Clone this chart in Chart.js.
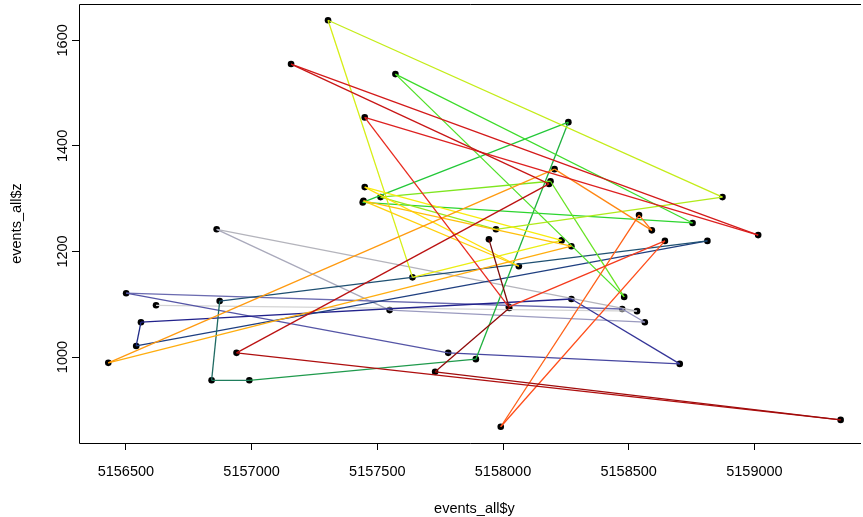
<!DOCTYPE html>
<html><head><meta charset="utf-8">
<script src="https://cdn.jsdelivr.net/npm/chart.js@4"></script>
<style>html,body{margin:0;padding:0;background:#fff;overflow:hidden}</style>
</head><body>
<canvas id="c" width="863" height="517" style="display:block;width:863px;height:517px"></canvas>
<script>
// events_all$y (horizontal) and events_all$z (vertical), in path order
const yVals = [5156620,5158533,5156861,5157549,5158564,5158474,5156501,5157782,5158703,5158272,
  5156560,5156541,5158813,5156873,5156841,5156991,5157892,5158260,5157442,5158754,
  5157572,5158482,5158189,5157513,5157972,5158873,5157304,5157640,5158233,5157450,
  5158063,5157445,5158272,5156430,5158205,5158592,5158541,5157991,5158644,5158023,
  5157450,5159015,5157157,5158183,5156940,5159343,5157730,5158025,5157944];
const zVals = [1098,1087,1242,1089,1066,1091,1121,1008,987,1110,
  1066,1021,1220,1106,956,956,996,1445,1293,1254,
  1536,1114,1333,1303,1242,1303,1638,1151,1221,1322,
  1172,1296,1210,989,1356,1240,1269,868,1220,1095,
  1454,1231,1555,1328,1008,881,972,1093,1223];
const segColors = ['#d3d3d3','#b4b4bc','#a9a9bb','#9a9abf','#8f8fbd','#6b6bb0','#5555a6','#4646a0',
  '#353598','#22228c','#1f2a86','#1f3f80','#1f5072','#1f6a62','#1f7d5c','#1f9a4c',
  '#1fb13e','#22c838','#2dd52f','#3ddc2a','#4fe026','#66e322','#7fe61f','#99e81c',
  '#b0ea1a','#c4ec18','#d6ee16','#eaee12','#f8ec0c','#ffe00a','#ffd00a','#ffbf0c',
  '#ffad0e','#ff9a10','#ff8612','#ff7414','#ff6016','#ff4c18','#f43a1c','#e82a1e',
  '#dd2020','#d31a1a','#c81616','#bb1212','#ae0e0e','#a00b0b','#900a0a','#7a0a0a'];
const xTicks = [5156500,5157000,5157500,5158000,5158500,5159000];
const yTicks = [1000,1200,1400,1600];
const xTitle = 'events_all$y';
const yTitle = 'events_all$z';

const xRange = [5156313.5, 5159459];   // full plot range (right part cropped)
const zRange = [837.2, 1668.8];
const xShownMax = 5159416;
const FONT = '14.5px "Liberation Sans", Arial, Helvetica, sans-serif';

const pts = yVals.map((v, i) => ({x: v, y: zVals[i]}));

const decor = {
  id: 'decor',
  afterDraw(chart) {
    const {ctx, chartArea: a, scales: {x, y}} = chart;
    ctx.save();
    ctx.strokeStyle = '#000'; ctx.lineWidth = 1;
    const L = Math.round(a.left) + 0.5, T = Math.round(a.top) + 0.5, B = Math.round(a.bottom) + 0.5;
    ctx.beginPath();
    ctx.moveTo(a.right + 2, T); ctx.lineTo(L, T); ctx.lineTo(L, B); ctx.lineTo(a.right + 2, B);
    ctx.stroke();
    ctx.fillStyle = '#000';
    ctx.font = FONT;
    ctx.textAlign = 'center'; ctx.textBaseline = 'middle';
    yTicks.forEach(v => {
      const py = y.getPixelForValue(v);
      ctx.save(); ctx.translate(a.left - 16, py); ctx.rotate(-Math.PI / 2);
      ctx.fillText(String(v), 0, 0); ctx.restore();
    });
    ctx.fillText(xTitle, x.getPixelForValue((xRange[0] + xRange[1]) / 2), 509);
    ctx.save(); ctx.translate(17, y.getPixelForValue((zRange[0] + zRange[1]) / 2));
    ctx.rotate(-Math.PI / 2); ctx.fillText(yTitle, 0, 0); ctx.restore();
    ctx.restore();
  }
};

new Chart(document.getElementById('c'), {
  type: 'scatter',
  data: {
    datasets: [
      {
        data: pts, showLine: true, pointRadius: 0, borderWidth: 1.3, order: 0,
        borderColor: segColors[0],
        segment: { borderColor: c => segColors[c.p0DataIndex] }
      },
      {
        data: pts, showLine: false, pointRadius: 3.3, pointBorderWidth: 0,
        pointBackgroundColor: '#000', borderColor: '#000', order: 1
      }
    ]
  },
  options: {
    responsive: false, animation: false, devicePixelRatio: 1, events: [],
    layout: { padding: { top: 4, right: 0, bottom: 0, left: 0 } },
    plugins: { legend: { display: false }, tooltip: { enabled: false } },
    scales: {
      x: {
        type: 'linear', min: xRange[0], max: xShownMax,
        afterFit: s => { s.height = 74; },
        afterBuildTicks: s => { s.ticks = xTicks.map(v => ({value: v})); },
        grid: { drawOnChartArea: false, drawTicks: true, tickLength: 7, color: '#000' },
        border: { display: false },
        ticks: { color: '#000', font: { family: '"Liberation Sans", Arial, sans-serif', size: 14.5 },
                 padding: 13, maxRotation: 0, autoSkip: false, includeBounds: false,
                 callback: v => String(v) }
      },
      y: {
        type: 'linear', min: zRange[0], max: zRange[1],
        afterFit: s => { s.width = 79; },
        afterBuildTicks: s => { s.ticks = yTicks.map(v => ({value: v})); },
        grid: { drawOnChartArea: false, drawTicks: true, tickLength: 7, color: '#000' },
        border: { display: false },
        ticks: { display: false, includeBounds: false }
      }
    }
  },
  plugins: [decor]
});
</script>
</body></html>
